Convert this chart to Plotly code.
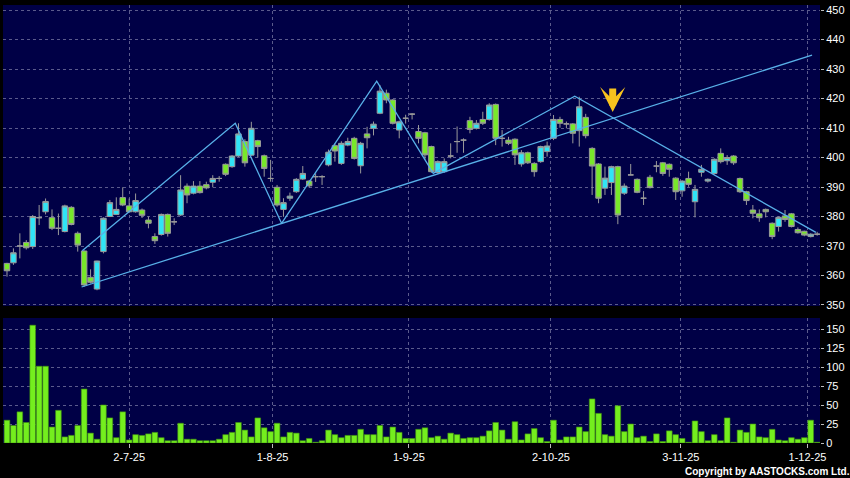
import plotly.graph_objects as go

# Daily candles, 4 Jun 2025 -> 2 Dec 2025 (one entry per trading day)
opens = [364.1, 364.3, 370, 371.2, 369.8, 379.6, 381.6, 379.6, 376, 374.9,
         383.1, 374.3, 368.3, 359.4, 355.4, 368.1, 380, 380.7, 386.4, 383.6,
         381.6, 382.2, 378.8, 373.2, 373.9, 380.7, 378.2, 380.5, 390.3, 387.9,
         390.3, 390.8, 391.6, 392.9, 397.7, 396.9, 400.5, 405.4, 400.8, 405.7,
         400.6, 392.9, 389.9, 382.4, 386.2, 388.4, 392.7, 392, 393.5, 393.5,
         397.5, 404, 398, 404.2, 406.5, 397.2, 408, 409.9, 415, 421.8,
         419.5, 409.3, 413.3, 414.7, 408.8, 408.4, 403.7, 394.9, 395.2, 400.5,
         405.4, 405.9, 412.5, 409.9, 412.9, 412.9, 418, 406.5, 405.9, 406.2,
         397.8, 401.6, 398, 398.6, 402, 406.5, 412.9, 411.4, 411.4, 409.1,
         413.6, 403.1, 397.8, 389.6, 391.5, 396.9, 387.9, 394.1, 392.6, 386.2,
         393.3, 397.1, 398.2, 397.7, 393, 388.7, 392.9, 385, 395, 392,
         394.6, 401.4, 398.9, 400.5, 392.9, 388.4, 382.2, 380.9, 382.4, 377.7,
         376.6, 380.2, 380.9, 375.6, 375, 373.2, 374]
highs = [364.3, 369.2, 374.3, 372, 380.5, 383.9, 386.1, 382.4, 381, 384,
         383.5, 374.9, 368.5, 362.1, 365, 379.7, 385.6, 386.5, 389.9, 386.1,
         387.8, 382.7, 380, 374.3, 381, 381, 379.4, 394, 391.2, 392,
         392, 391.8, 394, 393.7, 398, 400.8, 411.6, 406.2, 412.1, 406,
         401, 399.2, 390.7, 386.2, 388.1, 393, 397.1, 392.4, 394.6, 394,
         402.7, 404.7, 405.5, 406.7, 407, 405.3, 410.4, 412.2, 424.6, 423,
         419.8, 412.5, 414.5, 415, 411, 408.7, 404, 399, 399.7, 404.8,
         410.5, 406.5, 413.8, 412.7, 415.5, 418.4, 418.3, 409.3, 407, 406.5,
         402.5, 402, 398.4, 404, 405.4, 414.4, 413.8, 412.2, 411.7, 420.6,
         414.8, 403.5, 398.1, 396.9, 397.2, 397.2, 391.2, 397.8, 392.9, 388.6,
         394.1, 398.8, 398.5, 398, 393.3, 392.3, 395.2, 390.7, 397.5, 392.9,
         399.7, 403.1, 400.8, 400.8, 393.2, 388.7, 383.9, 382.4, 382.7, 378,
         380, 382.2, 381.2, 376.3, 375.2, 374.3, 374.8]
lows = [359.6, 363.6, 365.8, 368.8, 369, 377.1, 380.7, 375.4, 373.7, 374.6,
        377, 368.1, 356.2, 357.3, 355, 367.5, 379.8, 380.5, 383.5, 381.3,
        381.3, 379.5, 376, 370.7, 373.5, 373.2, 377.1, 380.2, 384.5, 387.5,
        387.8, 389.2, 389.9, 391.8, 393.7, 396.5, 400.2, 396.9, 400.5, 400,
        393.5, 391.8, 383.3, 379.9, 385.3, 388, 392.4, 389.8, 391.7, 390.7,
        397, 398.6, 397.5, 403.8, 399.3, 394.6, 403.1, 407.5, 414.7, 418.4,
        411.2, 406.5, 411.5, 412.9, 404.8, 399.2, 394.8, 394.5, 394.8, 399.7,
        401.6, 401.6, 408.2, 409.5, 411, 412.5, 404.2, 403.7, 404.2, 397.5,
        396.9, 397.8, 393.5, 398.2, 400.3, 405.9, 410.1, 409.9, 404.8, 403.7,
        406.5, 387.3, 384.5, 387.3, 387.3, 377.4, 387.3, 394, 387.9, 383.9,
        389.5, 395, 393.8, 393.5, 385.6, 386.7, 390.1, 379.7, 393.5, 391.5,
        394.3, 398, 397.5, 397.5, 388, 383.9, 379.4, 378.2, 379.7, 372.3,
        374.9, 378.2, 376.3, 374.2, 373.3, 372.9, 373.5]
closes = [361.6, 367.7, 370, 369.4, 380, 379.6, 385.1, 376, 376, 383.6,
          377.3, 370.3, 356.8, 357.7, 364.9, 379.4, 384.7, 382.4, 383.9, 381.6,
          385.4, 380.4, 377.7, 371.8, 380.7, 374.3, 378.2, 389, 387.3, 390.3,
          388.1, 389.7, 392.9, 392.9, 394.3, 400.5, 408, 398.2, 409.9, 403.7,
          396.3, 392.9, 383.9, 384.7, 386.9, 392.6, 394.6, 390.4, 393.5, 393.5,
          401.8, 402.2, 404.8, 405.4, 399.7, 404.8, 406.7, 411.3, 422.5, 419.5,
          411.6, 412.1, 413.3, 414.7, 406.5, 400.9, 395.2, 398.6, 398.6, 400.5,
          405.4, 405.9, 409.5, 411.6, 411.6, 417.8, 406.5, 406.5, 404.8, 400.9,
          401.6, 398.2, 395.2, 403.7, 403.9, 412.9, 411.6, 411.4, 408.2, 417.2,
          407.4, 397.1, 386.2, 393, 396.9, 380.5, 390.3, 394.1, 388.2, 386.2,
          389.8, 397.1, 394.6, 396, 388.4, 392, 390.9, 389.2, 396, 392.6,
          399.4, 398.6, 400, 398.2, 388.4, 385.4, 381.1, 379.6, 381.6, 373.2,
          379.7, 379, 376.6, 374.5, 373.7, 374, 374]
volumes = [30, 23, 41, 27, 155, 101, 101, 21, 43, 8,
           10, 23, 71, 13, 5, 50, 33, 7, 41, 4,
           11, 10, 12, 14, 7, 3, 3, 26, 5, 5,
           3, 3, 3, 5, 11, 14, 27, 17, 8, 33,
           20, 15, 26, 8, 14, 13, 3, 6, 1, 3,
           17, 11, 7, 10, 10, 18, 11, 11, 23, 8,
           21, 14, 6, 6, 18, 20, 7, 9, 5, 13,
           11, 6, 7, 7, 9, 16, 27, 17, 5, 28,
           4, 12, 19, 7, 2, 30, 4, 8, 8, 21,
           15, 58, 39, 11, 9, 49, 15, 25, 7, 9,
           2, 12, 2, 16, 11, 6, 1, 29, 15, 3,
           11, 3, 33, 1, 17, 14, 25, 8, 7, 18,
           4, 3, 7, 5, 7, 30, 1]
days = list(range(len(opens)))

# date ticks (position in trading days)
tick_pos = [19, 41.3, 62.5, 84.6, 104.8, 124.5]
tick_text = ["2-7-25", "1-8-25", "1-9-25", "2-10-25", "3-11-25", "1-12-25"]

# hand-drawn lines on the chart: zigzag and the rising trend line
zigzag_x = [11.7, 35.5, 42.7, 57.5, 66.3, 88.3, 125.8]
zigzag_y = [368.4, 411.6, 377.7, 425.9, 394.6, 420.8, 374.6]
trend_x = [11.6, 125.2]
trend_y = [356.1, 434.7]

# sell signal arrow
arrow_day = 94.2
arrow_price = 415.4

NAVY = "#000046"
GRID = "#5b5b8c"
CYAN = "#30e4f6"
GREEN = "#78e82a"
LINE_BLUE = "#58b0e8"
FONT = "Liberation Sans, Arial, sans-serif"

fig = go.Figure()

fig.add_trace(go.Candlestick(
    x=days, open=opens, high=highs, low=lows, close=closes,
    increasing=dict(fillcolor=CYAN, line=dict(color="#9a9a9a", width=1)),
    decreasing=dict(fillcolor=GREEN, line=dict(color="#9a9a9a", width=1)),
    xaxis="x", yaxis="y",
    showlegend=False,
))

fig.add_trace(go.Scatter(
    x=zigzag_x, y=zigzag_y, mode="lines",
    line=dict(color=LINE_BLUE, width=1.3),
    xaxis="x", yaxis="y", showlegend=False, hoverinfo="skip",
))
fig.add_trace(go.Scatter(
    x=trend_x, y=trend_y, mode="lines",
    line=dict(color=LINE_BLUE, width=1.3),
    xaxis="x", yaxis="y", showlegend=False, hoverinfo="skip",
))

fig.add_trace(go.Bar(
    x=days, y=volumes,
    marker=dict(color="#74ee1e", line=dict(color="#3f8f10", width=0.6)),
    xaxis="x2", yaxis="y2", showlegend=False,
))

fig.add_annotation(
    x=arrow_day, y=arrow_price, xref="x", yref="y",
    text="", showarrow=True,
    ax=0, ay=-25,
    arrowhead=3, arrowsize=0.6, arrowwidth=7, arrowcolor="#f7c21e",
)

fig.add_annotation(
    text="<b>Copyright by AASTOCKS.com Ltd.</b>",
    xref="paper", yref="paper", x=0.8323, y=-0.065,
    xanchor="left", yanchor="middle", showarrow=False,
    font=dict(family=FONT, size=10, color="#ffffff"),
)

xaxis_common = dict(
    range=[-0.62, 126.44],
    showgrid=True, gridcolor=GRID, griddash="3px,3px", gridwidth=1,
    tickvals=tick_pos, ticktext=tick_text,
    zeroline=False, showline=False,
    rangeslider=dict(visible=False),
)

fig.update_layout(
    width=850, height=478,
    margin=dict(l=3, r=30, t=5, b=35, autoexpand=False),
    paper_bgcolor="#000000",
    plot_bgcolor=NAVY,
    font=dict(family=FONT, size=11, color="#ffffff"),
    bargap=0.12,
    boxgap=0.15,
    boxgroupgap=0,
    xaxis=dict(**xaxis_common, showticklabels=False, ticks=""),
    xaxis2=dict(**xaxis_common, anchor="y2", matches="x",
                ticks="outside", ticklen=4, tickcolor="#bbbbbb",
                tickfont=dict(size=11, color="#ffffff")),
    yaxis=dict(
        domain=[0.3128, 1.0], range=[349.66, 451.7], side="right",
        dtick=10, tick0=350,
        showgrid=True, gridcolor=GRID, griddash="3px,3px",
        zeroline=False, ticks="outside", ticklen=3, tickcolor="#bbbbbb",
    ),
    yaxis2=dict(
        domain=[0, 0.2854], range=[0, 164.5], side="right", anchor="x2",
        dtick=25, tick0=0,
        showgrid=True, gridcolor=GRID, griddash="3px,3px",
        zeroline=False, ticks="outside", ticklen=3, tickcolor="#bbbbbb",
    ),
)

# the page's default body margin would shift the 850x478 figure
fig.write_html("out.html", config={"displayModeBar": False},
               post_script="document.body.style.margin='0';")
